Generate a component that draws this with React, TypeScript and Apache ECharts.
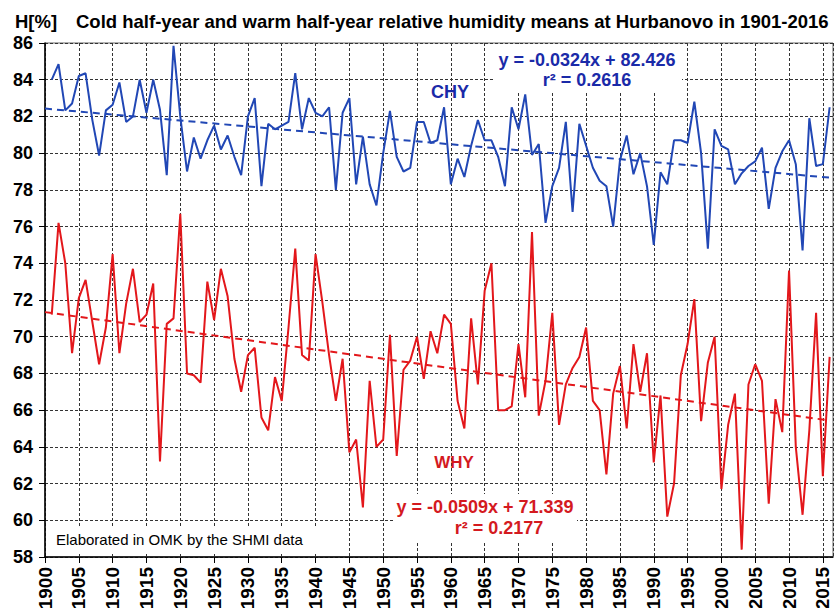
import React, { useEffect, useRef } from "react";
import * as echarts from "echarts";

const FIRST_YEAR = 1901;
const chy: number[] = [
  84.0, 84.85, 82.33, 82.7, 84.2, 84.35, 81.8, 79.87, 82.33, 82.64,
  83.85, 81.7, 82.0, 84.0, 82.2, 84.0, 82.36, 78.8, 85.85, 82.0,
  79.0, 80.85, 79.7, 80.7, 81.5, 80.2, 80.96, 79.8, 78.8, 82.0,
  83.0, 78.2, 81.6, 81.3, 81.5, 81.7, 84.36, 81.3, 83.0, 82.2,
  82.0, 82.5, 78.0, 82.2, 83.0, 78.3, 80.9, 78.3, 77.15, 80.0,
  82.3, 79.8, 79.0, 79.2, 81.7, 81.7, 80.55, 80.7, 82.5, 78.3,
  79.7, 78.7, 80.4, 81.8, 80.7, 80.7, 79.8, 78.2, 82.5, 81.3,
  83.2, 79.9, 80.5, 76.2, 78.2, 79.2, 81.7, 76.8, 81.6, 80.4,
  79.2, 78.5, 78.2, 76.0, 79.6, 80.96, 78.85, 80.0, 78.2, 75.0,
  78.96, 78.3, 80.7, 80.7, 80.55, 82.8, 80.0, 74.8, 81.3, 80.4,
  80.2, 78.3, 78.9, 79.3, 79.55, 80.3, 76.96, 79.2, 80.1, 80.7,
  79.4, 74.7, 81.9, 79.3, 79.4, 82.5,
];
const why: number[] = [
  71.2, 76.2, 74.0, 69.1, 72.1, 73.1, 70.8, 68.5, 70.5, 74.5,
  69.1, 71.8, 73.7, 70.8, 71.2, 72.9, 63.2, 70.7, 71.0, 76.7,
  68.0, 67.9, 67.5, 73.0, 70.9, 73.7, 72.2, 68.8, 67.0, 69.0,
  69.4, 65.6, 64.9, 67.8, 66.5, 70.5, 74.8, 69.0, 68.7, 74.5,
  71.9, 69.0, 66.5, 68.8, 63.7, 64.4, 60.7, 67.6, 64.0, 64.4,
  70.1, 63.5, 68.2, 68.7, 70.0, 67.7, 70.3, 69.1, 71.2, 70.7,
  66.5, 65.0, 71.0, 67.4, 72.5, 74.0, 66.0, 66.0, 66.2, 69.6,
  66.7, 75.7, 65.7, 67.6, 71.3, 65.2, 67.4, 68.3, 68.9, 70.5,
  66.5, 66.0, 62.5, 66.9, 68.4, 65.0, 69.6, 67.0, 69.1, 63.15,
  66.8, 60.2, 62.0, 67.9, 69.6, 72.05, 65.4, 68.6, 70.0, 61.7,
  65.2, 66.9, 58.4, 67.4, 68.5, 67.6, 60.9, 66.6, 64.8, 73.6,
  64.0, 60.3, 64.9, 71.3, 62.4, 68.9,
];
// trend coefficients as printed on the chart (x = year - 1900)
const chyTrend = { slope: -0.0324, intercept: 82.426, r2: "0.2616" };
const whyTrend = { slope: -0.0509, intercept: 71.339, r2: "0.2177" };
const X_MIN = 1900;
const X_MAX = 2016.5;
const Y_MIN = 58;
const Y_MAX = 86;

const BLUE_LINE = "#2147b5";
const BLUE_TEXT = "#1a2aa8";
const RED_LINE = "#e3171b";
const RED_TEXT = "#d41a1f";
const FONT = 'Arial, "Liberation Sans", sans-serif';

function toPairs(vals: number[]) {
  return vals.map((v, i) => [FIRST_YEAR + i, v]);
}
function trendPairs(t: { slope: number; intercept: number }) {
  const lastYear = FIRST_YEAR + chy.length - 1;
  return [
    [X_MIN, t.intercept],
    [lastYear, t.intercept + t.slope * (lastYear - 1900)],
  ];
}

export default function App() {
  const ref = useRef<HTMLDivElement>(null);
  useEffect(() => {
    if (!ref.current) return;
    const chart = echarts.init(ref.current, null, { renderer: "svg" });
    const gridLine = { show: true, lineStyle: { color: "#333", width: 1, type: [3, 2] as any } };
    const txt = (x: number, y: number, text: string, size: number, fill: string, align = "center") => ({
      type: "text",
      x,
      y,
      style: { text, font: `bold ${size}px ${FONT}`, fill, align, verticalAlign: "middle" },
      z: 10,
    });
    chart.setOption({
      animation: false,
      backgroundColor: "#fff",
      grid: {
        left: 45,
        right: 2,
        top: 43,
        bottom: 51,
        containLabel: false,
        outerBoundsMode: "none",
        show: true,
        borderColor: "#666",
        borderWidth: 1,
      },
      xAxis: {
        type: "value",
        min: X_MIN,
        max: X_MAX,
        interval: 5,
        axisLine: { show: true, onZero: false, lineStyle: { color: "#000", width: 1.5 } },
        axisTick: { show: true, length: 6, lineStyle: { color: "#000" } },
        axisLabel: {
          rotate: 90,
          color: "#000",
          fontFamily: FONT,
          fontWeight: "bold",
          fontSize: 19,
          margin: 10,
          showMaxLabel: false,
          hideOverlap: false,
          formatter: (v: number) => (v % 5 === 0 ? String(v) : ""),
        },
        splitLine: gridLine,
      },
      yAxis: {
        type: "value",
        min: Y_MIN,
        max: Y_MAX,
        interval: 2,
        axisLine: { show: true, lineStyle: { color: "#000", width: 1.5 } },
        axisTick: { show: true, length: 6, lineStyle: { color: "#000" } },
        axisLabel: {
          color: "#000",
          fontFamily: FONT,
          fontWeight: "bold",
          fontSize: 18,
          margin: 12,
        },
        splitLine: gridLine,
      },
      series: [
        {
          type: "line",
          name: "CHY",
          data: toPairs(chy),
          showSymbol: false,
          lineStyle: { color: BLUE_LINE, width: 2 },
          z: 3,
        },
        {
          type: "line",
          name: "WHY",
          data: toPairs(why),
          showSymbol: false,
          lineStyle: { color: RED_LINE, width: 2 },
          z: 3,
        },
        {
          type: "line",
          name: "CHY trend",
          data: trendPairs(chyTrend),
          showSymbol: false,
          lineStyle: { color: BLUE_LINE, width: 2, type: [7, 5] as any },
          z: 3,
        },
        {
          type: "line",
          name: "WHY trend",
          data: trendPairs(whyTrend),
          showSymbol: false,
          lineStyle: { color: RED_LINE, width: 2, type: [7, 5] as any },
          z: 3,
        },
      ],
      graphic: [
        txt(15, 21, "H[%]", 18.5, "#000", "left"),
        txt(
          76,
          21,
          "Cold half-year and warm half-year relative humidity means at Hurbanovo in 1901-2016",
          18.5,
          "#000",
          "left"
        ),
        { type: "rect", shape: { x: 495, y: 44, width: 187, height: 48 }, style: { fill: "#fff" }, z: 1 },
        txt(587, 60, `y = ${chyTrend.slope}x + ${chyTrend.intercept}`, 18, BLUE_TEXT),
        txt(587, 80, `r² = ${chyTrend.r2}`, 18, BLUE_TEXT),
        txt(450, 92, "CHY", 18, BLUE_TEXT),
        txt(454, 462, "WHY", 17, RED_TEXT),
        { type: "rect", shape: { x: 393, y: 494, width: 184, height: 48 }, style: { fill: "#fff" }, z: 1 },
        txt(485, 507, `y = ${whyTrend.slope}x + ${whyTrend.intercept}`, 18, RED_TEXT),
        txt(499, 528, `r² = ${whyTrend.r2}`, 18, RED_TEXT),
        { type: "rect", shape: { x: 47, y: 526, width: 272, height: 28 }, style: { fill: "#fff" }, z: 1 },
        {
          type: "text",
          x: 56,
          y: 539,
          style: {
            text: "Elaborated in OMK by the SHMI data",
            font: `15px ${FONT}`,
            fill: "#000",
            align: "left",
            verticalAlign: "middle",
          },
          z: 10,
        },
      ],
    });
    return () => chart.dispose();
  }, []);
  return (
    <div
      ref={ref}
      style={{ position: "fixed", left: 0, top: 0, width: 835, height: 608 }}
    />
  );
}
